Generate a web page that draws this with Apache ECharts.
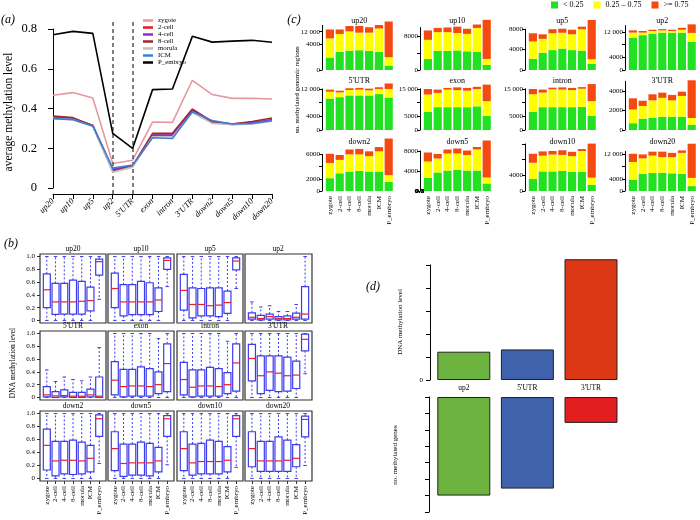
<!DOCTYPE html>
<html><head><meta charset="utf-8">
<script src="https://cdn.jsdelivr.net/npm/echarts@6/dist/echarts.min.js"></script>
<style>html,body{margin:0;padding:0;background:#fff}#c{width:700px;height:520px}</style>
</head><body><div id="c"></div>
<script>
// ================= DATA =================
const regions = ['up20','up10','up5','up2',"5'UTR",'exon','intron',"3'UTR",'down2','down5','down10','down20'];
const stages = ['zygote','2-cell','4-cell','8-cell','morula','ICM','P_embryo'];

// (a) average methylation level per region
const avg_zygote  = [0.467,0.480,0.453,0.123,0.140,0.332,0.330,0.542,0.470,0.451,0.451,0.448];
const avg_2cell   = [0.356,0.350,0.315,0.090,0.110,0.265,0.265,0.390,0.330,0.320,0.325,0.345];
const avg_4cell   = [0.355,0.350,0.314,0.095,0.110,0.266,0.266,0.395,0.335,0.322,0.330,0.342];
const avg_8cell   = [0.362,0.354,0.313,0.086,0.111,0.275,0.275,0.397,0.333,0.322,0.335,0.352];
const avg_morula  = [0.350,0.344,0.310,0.080,0.105,0.258,0.258,0.380,0.325,0.318,0.322,0.336];
const avg_ICM     = [0.349,0.344,0.312,0.100,0.116,0.253,0.249,0.384,0.339,0.322,0.325,0.339];
const avg_Pembryo = [0.771,0.788,0.778,0.275,0.199,0.495,0.498,0.763,0.734,0.739,0.743,0.733];
const dividerRegions = ['up2', "5'UTR"];

// (b) boxplot stats per stage: [min, q1, median, q3, max]
const box_up20 = [[0,0.20,0.48,0.73,1],[0,0.095,0.29,0.58,1],[0,0.10,0.29,0.58,1],[0,0.10,0.29,0.63,1],[0,0.10,0.30,0.61,1],[0,0.15,0.31,0.52,1],[0.33,0.71,0.92,0.96,1]];
const box_up10 = [[0,0.20,0.50,0.74,1],[0,0.07,0.29,0.56,1],[0,0.09,0.29,0.56,1],[0,0.09,0.29,0.61,1],[0,0.09,0.29,0.59,1],[0,0.14,0.32,0.51,1],[0.53,0.80,0.94,0.98,1]];
const box_up5  = [[0,0.16,0.47,0.72,1],[0,0.04,0.25,0.51,1],[0,0.07,0.25,0.50,1],[0,0.07,0.23,0.51,1],[0,0.06,0.24,0.51,1],[0,0.11,0.28,0.46,1],[0.50,0.79,0.93,0.98,1]];
const box_up2  = [[0,0.02,0.05,0.12,0.29],[0,0.01,0.03,0.08,0.21],[0,0.02,0.06,0.10,0.23],[0,0.01,0.03,0.06,0.14],[0,0.01,0.03,0.07,0.14],[0,0.02,0.05,0.115,0.25],[0,0.02,0.10,0.53,1]];
const box_5UTR = [[0,0.01,0.04,0.17,0.43],[0,0,0.025,0.09,0.25],[0,0.01,0.03,0.12,0.32],[0,0,0.02,0.08,0.28],[0,0,0.02,0.08,0.26],[0,0.01,0.04,0.13,0.32],[0,0,0.02,0.32,0.78]];
const box_exon = [[0,0.04,0.27,0.56,1],[0,0.01,0.17,0.44,1],[0,0.02,0.18,0.44,1],[0,0.02,0.18,0.48,1],[0,0.02,0.17,0.45,1],[0,0.06,0.20,0.40,0.92],[0,0.09,0.53,0.84,1]];
const box_intron = [[0,0.04,0.28,0.55,1],[0,0.01,0.16,0.43,1],[0,0.02,0.18,0.43,1],[0,0.02,0.18,0.47,1],[0,0.02,0.17,0.45,1],[0,0.06,0.20,0.39,0.88],[0,0.10,0.54,0.84,1]];
const box_3UTR = [[0,0.26,0.61,0.83,1],[0,0.06,0.34,0.65,1],[0,0.11,0.40,0.65,1],[0,0.09,0.38,0.65,1],[0,0.10,0.34,0.63,1],[0,0.14,0.35,0.57,1],[0.37,0.73,0.91,0.99,1]];
const box_down2 = [[0,0.13,0.51,0.76,1],[0,0.04,0.27,0.57,1],[0,0.07,0.28,0.57,1],[0,0.06,0.28,0.59,1],[0,0.07,0.27,0.56,1],[0,0.10,0.31,0.51,1],[0.23,0.65,0.92,0.98,1]];
const box_down5 = [[0,0.12,0.46,0.72,1],[0,0.03,0.23,0.53,1],[0,0.05,0.24,0.53,1],[0,0.05,0.24,0.56,1],[0,0.04,0.24,0.54,1],[0,0.10,0.27,0.48,1],[0.21,0.65,0.92,0.97,1]];
const box_down10 = [[0,0.12,0.46,0.72,1],[0,0.05,0.24,0.53,1],[0,0.07,0.26,0.54,1],[0,0.07,0.26,0.59,1],[0,0.07,0.26,0.57,1],[0,0.10,0.28,0.49,1],[0.17,0.65,0.92,0.97,1]];
const box_down20 = [[0,0.18,0.46,0.72,1],[0,0.11,0.27,0.57,1],[0,0.11,0.27,0.57,1],[0,0.11,0.27,0.64,1],[0,0.11,0.28,0.59,1],[0,0.18,0.31,0.52,1],[0.20,0.64,0.91,0.96,1]];

// (c) no. of methylated regions per stage: [<0.25, 0.25-0.75, >=0.75]
const classNames = ['< 0.25', '0.25 \u2013 0.75', '>= 0.75'];
const cnt_up20 = [[3900,6000,2800],[5700,5600,1400],[6100,6000,1700],[6200,5500,2100],[6000,5700,1700],[5700,7300,1100],[1400,2600,11200]];
const cnt_up10 = [[2600,4500,2200],[4500,4400,1000],[4500,4400,1100],[4600,4100,1500],[4400,4100,1200],[4300,5600,800],[1200,1400,9200]];
const cnt_up5  = [[2200,3400,1600],[3400,2700,900],[3900,3300,800],[4200,3100,800],[3900,3100,900],[3800,4200,500],[1200,900,7700]];
const cnt_up2  = [[10200,1600,700],[11000,800,500],[11500,800,400],[11800,700,400],[11800,500,400],[11800,900,600],[8900,2800,2700]];
const cnt_5UTR = [[9200,2000,600],[9600,1400,500],[10100,1600,500],[10100,1700,500],[10100,1500,500],[10500,1500,500],[9500,2500,1600]];
const cnt_exon = [[6600,6300,2000],[8300,5200,1200],[8300,6400,600],[8300,6200,1000],[8300,6000,1000],[8600,6300,800],[5100,5400,6000]];
const cnt_intron = [[6600,6400,1900],[8300,5300,1100],[8300,6500,600],[8300,6400,800],[8300,6200,800],[8400,6600,600],[5100,5400,6200]];
const cnt_3UTR = [[700,1400,1150],[1160,1300,540],[1260,1780,620],[1370,1930,530],[1370,1670,560],[1370,2120,440],[550,680,3870]];
const cnt_down2 = [[2100,2500,1500],[2900,2200,800],[3200,2800,800],[3300,2700,900],[3200,2500,800],[3200,3300,700],[1500,1100,6000]];
const cnt_down5 = [[2600,3300,1800],[3700,2800,900],[4100,3400,800],[4200,3300,1000],[4100,3100,900],[4100,4200,500],[1500,1200,7400]];
const cnt_down10 = [[3100,4100,2300],[5000,4000,1100],[5000,4300,900],[5100,4100,1200],[4900,4000,1100],[4850,5350,500],[1600,1800,8700]];
const cnt_down20 = [[3750,5750,2700],[5600,5100,1300],[5900,5700,1300],[6000,5100,1800],[5800,5300,1400],[5600,6900,800],[1600,2700,11200]];
// (c) axis ranges and tick labels
const cYMax = [14000,10000,8000,14000,12000,15000,15000,5000,6000,8000,12000,13000];
const cTickVals = [[0,8000,12000],[0,4000,8000],[0,4000,8000],[0,4000,8000,12000],[0,4000,8000,12000],[0,5000,10000,15000],[0,5000,10000,15000],[0,2000,4000],[0,2000,4000,6000],[0,4000,8000],[0,4000,8000,12000],[0,4000,8000,12000]];
const cTickText = [['0','4000','12 000'],['0','','8000'],['0','4000','8000'],['0','4000','','12 000'],['0','4000','','12 000'],['0','5000','','15 000'],['0','5000','','15 000'],['0','2000','4000'],['0','2000','','6000'],['0','4000','8000'],['0','4000','',''],['0','4000','','12 000']];

// (d)
const d_regions = ['up2', "5'UTR", "3'UTR"];
const d_methyl = [0.123, 0.133, 0.525];
const d_genes = [12000, 11150, 3150];
const d_methylTicks = [0, 0.1, 0.2, 0.3, 0.4, 0.5];
const d_geneTicks = [0, 2000, 4000, 6000, 8000, 10000, 12000, 14000];
const d_geneLabels = [0, 2000, 6000, 10000, 14000];

// ================= STYLE / LAYOUT =================
const FONT = 'Liberation Serif';
const lineColors = ['#e8979f','#e41a1c','#8f2bd8','#a0282a','#bfbfbf','#3d7fd6','#000000'];
const classColors = ['#22e022','#ffff00','#f44a12'];
const dTopColors = ['#6db33f','#4062ad','#dc3816'];
const dBotColors = ['#6db33f','#4062ad','#e21e1e'];
const BOX_BLUE = '#3c3cee', MED_RED = '#e8202a';
const bColL = [40,108,177,245], bRowT = [254,331,411], bRowH = [69,69,70], bW = 66;
const cAxisX = [322,420,525,625], cRowBase = [70,130,191], cW = 68.6;
const cPxPerK = [3.19,4.25,5.1,3.17,3.42,2.75,2.75,9.75,6.1,5.0,3.92,3.05];

const avgList = [avg_zygote,avg_2cell,avg_4cell,avg_8cell,avg_morula,avg_ICM,avg_Pembryo];
const boxList = [box_up20,box_up10,box_up5,box_up2,box_5UTR,box_exon,box_intron,box_3UTR,box_down2,box_down5,box_down10,box_down20];
const cntList = [cnt_up20,cnt_up10,cnt_up5,cnt_up2,cnt_5UTR,cnt_exon,cnt_intron,cnt_3UTR,cnt_down2,cnt_down5,cnt_down10,cnt_down20];

const grids = [], xAxes = [], yAxes = [], series = [], graphics = [];
const blk = '#000';
function txt(text, x, y, size, opt) {
  opt = opt || {};
  const el = {type:'text', x, y, rotation: opt.rot || 0, silent:true,
    style:{text, font:(opt.italic?'italic ':'') + size + 'px "' + FONT + '"', fill:'#000',
      align: opt.align || 'center', verticalAlign: opt.va || 'middle',
      textAlign: opt.align || 'center', textVerticalAlign: opt.va || 'middle'}};
  if (opt.zlevel) { el.zlevel = opt.zlevel; el.z = 100; }
  graphics.push(el);
}
const lbl = (extra) => Object.assign({show:true, hideOverlap:false, showMinLabel:true, showMaxLabel:true,
  fontFamily:FONT, color:blk}, extra);

// ---------- (a) ----------
grids.push({left:53, right:700-272, top:29, bottom:520-188, outerBoundsMode:'none', containLabel:false});
xAxes.push({gridIndex:0, type:'category', data:regions, boundaryGap:false, offset:6,
  axisLine:{show:true, onZero:false, lineStyle:{color:blk, width:1}},
  axisTick:{show:true, length:5, lineStyle:{color:blk}, interval:0},
  axisLabel:lbl({rotate:45, fontStyle:'italic', fontSize:8.5, margin:6, interval:0}),
  splitLine:{show:false}});
yAxes.push({gridIndex:0, type:'value', min:0, max:0.8, interval:0.2,
  axisLine:{show:true, lineStyle:{color:blk}}, axisTick:{show:true, length:5, lineStyle:{color:blk}},
  axisLabel:lbl({fontSize:12.5, margin:16, formatter:v => v === 0 ? '0' : (+v).toFixed(1)}),
  splitLine:{show:false}});
stages.forEach((s, i) => {
  series.push({type:'line', name:s, xAxisIndex:0, yAxisIndex:0, data:avgList[i], symbol:'none',
    lineStyle:{color:lineColors[i], width:1.6}, itemStyle:{color:lineColors[i]}, z:3+i, silent:true, clip:false});
});
// overlay grid (same x scale, slightly taller) for the dashed dividers
{
  const gi = grids.length;
  grids.push({left:53, right:700-272, top:22, bottom:520-194, outerBoundsMode:'none', containLabel:false});
  xAxes.push({gridIndex:gi, type:'category', data:regions, boundaryGap:false, show:false});
  yAxes.push({gridIndex:gi, type:'value', min:0, max:1, show:false, splitLine:{show:false}});
  series.push({type:'line', name:'divider', xAxisIndex:gi, yAxisIndex:gi, data:regions.map(() => 0.5),
    symbol:'none', lineStyle:{opacity:0}, silent:true, z:2,
    markLine:{symbol:['none','none'], silent:true, label:{show:false}, animation:false,
      lineStyle:{type:[4,3], color:'#555', width:1.5},
      data:dividerRegions.map(reg => ({xAxis:reg}))}});
}
txt('average methylation level', 9, 112, 11.5, {rot:Math.PI/2});
txt('(a)', 8, 20, 12, {italic:true});

// ---------- (b) ----------
function renderBox(params, api) {
  const x = api.value(0);
  const pMin = api.coord([x, api.value(1)]);
  const pQ1 = api.coord([x, api.value(2)]);
  const pMed = api.coord([x, api.value(3)]);
  const pQ3 = api.coord([x, api.value(4)]);
  const pMax = api.coord([x, api.value(5)]);
  const w = api.size([0.8, 0])[0];
  const cw = w * 0.5;
  const cx = pMed[0];
  const dash = {stroke:BOX_BLUE, lineWidth:1, lineDash:[2,2]};
  const solid = {stroke:BOX_BLUE, lineWidth:1};
  return {type:'group', children:[
    {type:'line', shape:{x1:cx, y1:pQ3[1], x2:cx, y2:pMax[1]}, style:dash},
    {type:'line', shape:{x1:cx, y1:pQ1[1], x2:cx, y2:pMin[1]}, style:dash},
    {type:'line', shape:{x1:cx-cw/2, y1:pMax[1], x2:cx+cw/2, y2:pMax[1]}, style:solid},
    {type:'line', shape:{x1:cx-cw/2, y1:pMin[1], x2:cx+cw/2, y2:pMin[1]}, style:solid},
    {type:'rect', shape:{x:cx-w/2, y:pQ3[1], width:w, height:pQ1[1]-pQ3[1]}, style:{fill:'#fff', stroke:BOX_BLUE, lineWidth:1.2}},
    {type:'line', shape:{x1:cx-w/2, y1:pMed[1], x2:cx+w/2, y2:pMed[1]}, style:{stroke:MED_RED, lineWidth:1.2}}
  ]};
}
const yTicksB = [0,0.2,0.4,0.6,0.8,1.0];
const xTicksB = [1,2,3,4,5,6,7];
regions.forEach((reg, r) => {
  const col = r % 4, row = Math.floor(r / 4);
  const gi = grids.length;
  grids.push({left:bColL[col], top:bRowT[row], width:bW + (col === 3 ? 1 : 0), height:bRowH[row], show:true,
    borderColor:'#333', borderWidth:1.2, backgroundColor:'rgba(0,0,0,0)', outerBoundsMode:'none', containLabel:false});
  const bottomRow = row === 2;
  xAxes.push({gridIndex:gi, type:'value', min:0.22, max:7.78, show:bottomRow,
    axisLine:{show:false, onZero:false},
    axisTick:{show:true, customValues:xTicksB, length:3, lineStyle:{color:'#333'}},
    axisLabel:lbl({customValues:xTicksB, rotate:90, fontSize:7, margin:5,
      formatter:v => stages[Math.round(v) - 1]}),
    splitLine:{show:false}});
  yAxes.push({gridIndex:gi, type:'value', min:-0.04, max:1.04, show:col === 0,
    axisLine:{show:false, onZero:false},
    axisTick:{show:true, customValues:yTicksB, length:3, lineStyle:{color:'#333'}},
    axisLabel:lbl({customValues:yTicksB, fontSize:7, margin:5,
      formatter:v => v === 0 ? '0' : (+v).toFixed(1)}),
    splitLine:{show:false}});
  series.push({type:'custom', name:'box_' + reg, xAxisIndex:gi, yAxisIndex:gi, silent:true,
    data:boxList[r].map((s, i) => [i + 1].concat(s)),
    encode:{x:0, y:[1,2,3,4,5]}, renderItem:renderBox});
  txt(reg, bColL[col] + bW / 2, bRowT[row] - 4.5, 7.5);
});
txt('DNA methylation level', 13, 363, 7.5, {rot:Math.PI/2});
txt('(b)', 11, 244, 12, {italic:true});

// ---------- (c) ----------
regions.forEach((reg, r) => {
  const col = r % 4, row = Math.floor(r / 4);
  const gi = grids.length;
  const h = cYMax[r] * cPxPerK[r] / 1000;
  grids.push({left:cAxisX[col] + 3, top:cRowBase[row] - h, width:cW, height:h, outerBoundsMode:'none', containLabel:false});
  xAxes.push({gridIndex:gi, type:'category', data:stages,
    axisLine:{show:false}, axisTick:{show:false},
    axisLabel:lbl({show:row === 2, rotate:90, interval:0, fontSize:7, margin:5}),
    splitLine:{show:false}});
  const tv = cTickVals[r], tt = cTickText[r];
  yAxes.push({gridIndex:gi, type:'value', min:0, max:cYMax[r], offset:3,
    axisLine:{show:true, lineStyle:{color:blk, width:1}},
    axisTick:{show:true, customValues:tv, length:3, lineStyle:{color:blk}},
    axisLabel:lbl({customValues:tv, fontSize:7, margin:2,
      formatter:v => { const k = tv.indexOf(v); return k >= 0 ? tt[k] : ''; }}),
    splitLine:{show:false}});
  classNames.forEach((cn, k) => {
    series.push({type:'bar', name:cn, xAxisIndex:gi, yAxisIndex:gi, stack:'c' + r, clip:false, silent:true,
      barCategoryGap:'16.7%', data:cntList[r].map(d => d[k]), itemStyle:{color:classColors[k]}});
  });
  txt(reg, cAxisX[col] + 3 + cW / 2, cRowBase[row] - 49.5, 8);
});
txt('no. methylated genomic regions', 297, 90, 6.8, {rot:Math.PI/2});
txt('(c)', 294, 20, 12, {italic:true});

// ---------- (d) ----------
const dTop = {top:265, height:115}, dBot = {top:397, height:115};
const fmtMethyl = v => v === 0 ? '0' : (+v).toFixed(1);
const fmtGenes = v => v >= 10000 ? Math.floor(v / 1000) + ' 000' : String(v);
// top: bars + y axis in the same grid
let gi = grids.length;
const dTopGrid = gi;
grids.push({left:432, width:190.8, top:dTop.top, height:dTop.height, outerBoundsMode:'none', containLabel:false});
xAxes.push({gridIndex:gi, type:'category', data:d_regions, axisLine:{show:false, onZero:false}, axisTick:{show:false},
  axisLabel:{show:false}, splitLine:{show:false}});
yAxes.push({gridIndex:gi, type:'value', min:0, max:0.5, offset:2,
  axisLine:{show:true, onZero:false, lineStyle:{color:blk}},
  axisTick:{show:true, customValues:d_methylTicks, length:4, lineStyle:{color:blk}},
  axisLabel:{show:false}, splitLine:{show:false}});
series.push({type:'bar', name:'methylation', xAxisIndex:gi, yAxisIndex:gi, clip:false, silent:true, barCategoryGap:'16.7%',
  data:d_methyl.map((v, i) => ({value:v, itemStyle:{color:dTopColors[i]}})),
  itemStyle:{borderColor:'#222', borderWidth:1}});
// bottom: bars + inverted y axis; category labels between the two panels
gi = grids.length;
const dBotGrid = gi;
grids.push({left:432, width:190.8, top:dBot.top, height:dBot.height, outerBoundsMode:'none', containLabel:false});
xAxes.push({gridIndex:gi, type:'category', data:d_regions, position:'top', axisLine:{show:false, onZero:false}, axisTick:{show:false},
  axisLabel:lbl({fontSize:7.5, margin:5, interval:0}), splitLine:{show:false}});
yAxes.push({gridIndex:gi, type:'value', min:0, max:14000, inverse:true, offset:3,
  axisLine:{show:true, onZero:false, lineStyle:{color:blk}},
  axisTick:{show:true, customValues:d_geneTicks, length:4, lineStyle:{color:blk}},
  axisLabel:{show:false}, splitLine:{show:false}});
series.push({type:'bar', name:'genes', xAxisIndex:gi, yAxisIndex:gi, clip:false, silent:true, barCategoryGap:'16.7%',
  data:d_genes.map((v, i) => ({value:v, itemStyle:{color:dBotColors[i]}})),
  itemStyle:{borderColor:'#222', borderWidth:1}});
txt('DNA methylation level', 400, 322, 7, {rot:Math.PI/2});
txt('no. methylated genes', 395, 455, 7, {rot:Math.PI/2});
txt('(d)', 373, 287, 12, {italic:true});

const chart = echarts.init(document.getElementById('c'));
chart.setOption({
  animation:false,
  backgroundColor:'#fff',
  textStyle:{fontFamily:FONT},
  tooltip:{show:false},
  legend:[
    {data:stages, left:143, top:17, orient:'vertical', icon:'rect', itemWidth:10, itemHeight:2.5, itemGap:0,
     padding:0, selectedMode:false, textStyle:{fontFamily:FONT, fontSize:6.8, color:blk, lineHeight:6.6}},
    {data:classNames, left:551, top:1, orient:'horizontal', icon:'rect', itemWidth:7, itemHeight:7, itemGap:10,
     padding:0, selectedMode:false, textStyle:{fontFamily:FONT, fontSize:8, color:blk}}
  ],
  grid:grids, xAxis:xAxes, yAxis:yAxes, series:series, graphic:graphics
});

// (d) tick labels: positioned through the (d) y-axis scales, on a separate top layer
function addTickLabels(yAxisIndex, axisX, values, fmt) {
  values.forEach(v => {
    const py = chart.convertToPixel({yAxisIndex:yAxisIndex}, v);
    if (py != null && isFinite(py)) txt(fmt(v), axisX - 6, py, 7, {align:'right', zlevel:5});
  });
}
addTickLabels(yAxes.length - 3, 430, d_methylTicks, fmtMethyl);
addTickLabels(yAxes.length - 2, 429, d_geneLabels, fmtGenes);
chart.setOption({graphic:graphics});
</script></body></html>
